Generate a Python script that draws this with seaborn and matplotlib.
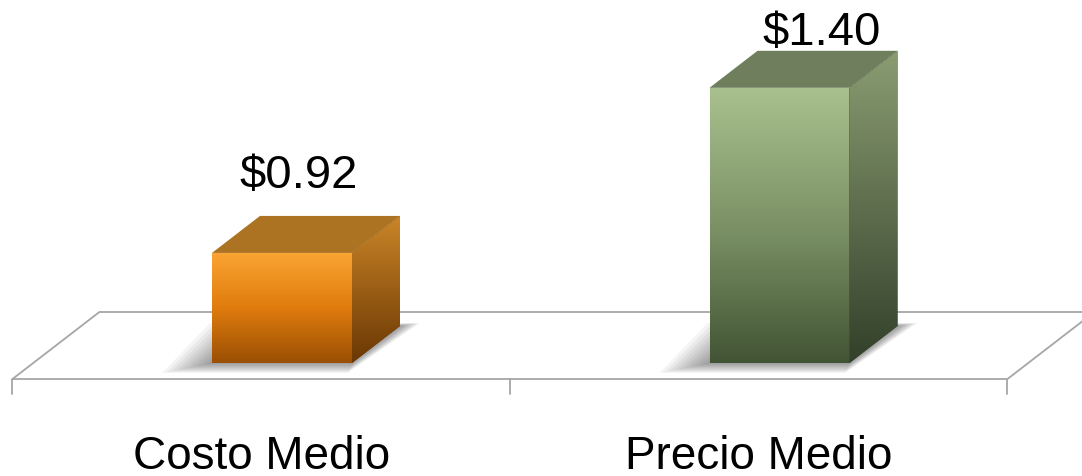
import numpy as np
import matplotlib
matplotlib.use("Agg")
import matplotlib.pyplot as plt
import seaborn as sns
from matplotlib.colors import LinearSegmentedColormap
from matplotlib.patches import Polygon

# ---------------- data ----------------
categories = ["Costo Medio", "Precio Medio"]
values = [0.92, 1.40]
value_labels = ["$0.92", "$1.40"]

# ---------------- styles ----------------
front_top = ["#FBA534", "#A9C18E"]
front_mid = ["#E07C0E", "#7C9266"]
front_bottom = ["#9A4F03", "#425434"]
top_face = ["#AC7322", "#6F7E5D"]
side_top = ["#CB8628", "#8A9D72"]
side_bottom = ["#6A3703", "#33402A"]
label_dx_px = [17, 42]
label_base_px = [66, 44]

sns.set_theme(style="white")
plt.rcParams["font.family"] = ["Liberation Sans", "DejaVu Sans"]

W, H, DPI = 1082, 477, 100
fig = plt.figure(figsize=(W / DPI, H / DPI), dpi=DPI)
fig.patch.set_facecolor("white")

L, R = 33.25, 1028.25
B_px = 364
ymin, ymax = 0.6, 1.6
pxu = 344.0
top_px = B_px - (ymax - ymin) * pxu
ax = fig.add_axes([L / W, (H - B_px) / H, (R - L) / W, (B_px - top_px) / H])

cat_px = (R - L) / 2.0
bw = 140 / cat_px
sns.barplot(x=categories, y=values, hue=categories, palette=front_mid,
            width=bw, saturation=1, legend=False, ax=ax, linewidth=0, zorder=2)
ax.set_xlim(-0.5, 1.5)
ax.set_ylim(ymin, ymax)
ax.set_axis_off()

ddx = 48 / cat_px
ddy = 37 / pxu
f_d = -16 / 37
b_d = 51 / 37

# floor
gray = "#A6A6A6"
FL = (-0.5 + f_d * ddx, ymin + f_d * ddy)
FR = (1.5 + f_d * ddx, ymin + f_d * ddy)
BL = (-0.5 + b_d * ddx, ymin + b_d * ddy)
BR = (1.5 + b_d * ddx, ymin + b_d * ddy)
for a, b in [(FL, FR), (FL, BL), (BL, BR), (FR, BR)]:
    ax.plot([a[0], b[0]], [a[1], b[1]], color=gray, lw=1.3, clip_on=False, zorder=0.5,
            solid_capstyle="butt")
for k in range(len(categories) + 1):
    xt = -0.5 + k + f_d * ddx
    ax.plot([xt, xt], [FL[1], FL[1] - 15 / pxu], color=gray, lw=1.3, clip_on=False, zorder=0.5)

bars = sorted(ax.patches, key=lambda p: p.get_x())
for i, (p, v) in enumerate(zip(bars, values)):
    x0 = p.get_x()
    x1 = x0 + p.get_width()
    # shadow
    for k in range(10, 0, -1):
        ex = k * 3.5 / cat_px
        ey = k * 1.0 / pxu
        sx = -k * 1.5 / cat_px
        poly = [(x0 - ex + sx, ymin - ey), (x1 + ex * 0.3 + sx, ymin - ey),
                (x1 + ddx + ex + sx, ymin + ddy + ey * 0.3), (x0 + ddx - ex + sx, ymin + ddy + ey * 0.3)]
        ax.add_patch(Polygon(poly, closed=True, facecolor="#000000", alpha=0.045,
                             edgecolor="none", clip_on=False, zorder=1))
    # front gradient
    cmap = LinearSegmentedColormap.from_list("f%d" % i, [front_bottom[i], front_mid[i], front_top[i]])
    arr = np.linspace(0, 1, 256).reshape(-1, 1)
    im = ax.imshow(arr, cmap=cmap, extent=[x0, x1, ymin, v], origin="lower",
                   aspect="auto", zorder=2.1, interpolation="bilinear")
    im.set_clip_path(p)
    # side face
    side = Polygon([(x1, ymin), (x1 + ddx, ymin + ddy), (x1 + ddx, v + ddy), (x1, v)],
                   closed=True, facecolor=side_bottom[i], edgecolor="none", zorder=2.2)
    ax.add_patch(side)
    cmap_s = LinearSegmentedColormap.from_list("s%d" % i, [side_bottom[i], side_top[i]])
    ims = ax.imshow(arr, cmap=cmap_s, extent=[x1, x1 + ddx, ymin, v + ddy], origin="lower",
                    aspect="auto", zorder=2.25, interpolation="bilinear")
    ims.set_clip_path(side)
    # top face
    ax.add_patch(Polygon([(x0, v), (x1, v), (x1 + ddx, v + ddy), (x0 + ddx, v + ddy)],
                         closed=True, facecolor=top_face[i], edgecolor="none", zorder=2.3))
    # value label
    ax.text((x0 + x1) / 2 + label_dx_px[i] / cat_px, v + label_base_px[i] / pxu, value_labels[i],
            ha="center", va="baseline", fontsize=34, color="black", zorder=5)
    # category label
    ax.text(i + f_d * ddx, ymin - (469 - B_px) / pxu, categories[i],
            ha="center", va="baseline", fontsize=33, color="black", clip_on=False)

ax.set_xlim(-0.5, 1.5)
ax.set_ylim(ymin, ymax)
fig.savefig("out.png", dpi=DPI, facecolor="white")
